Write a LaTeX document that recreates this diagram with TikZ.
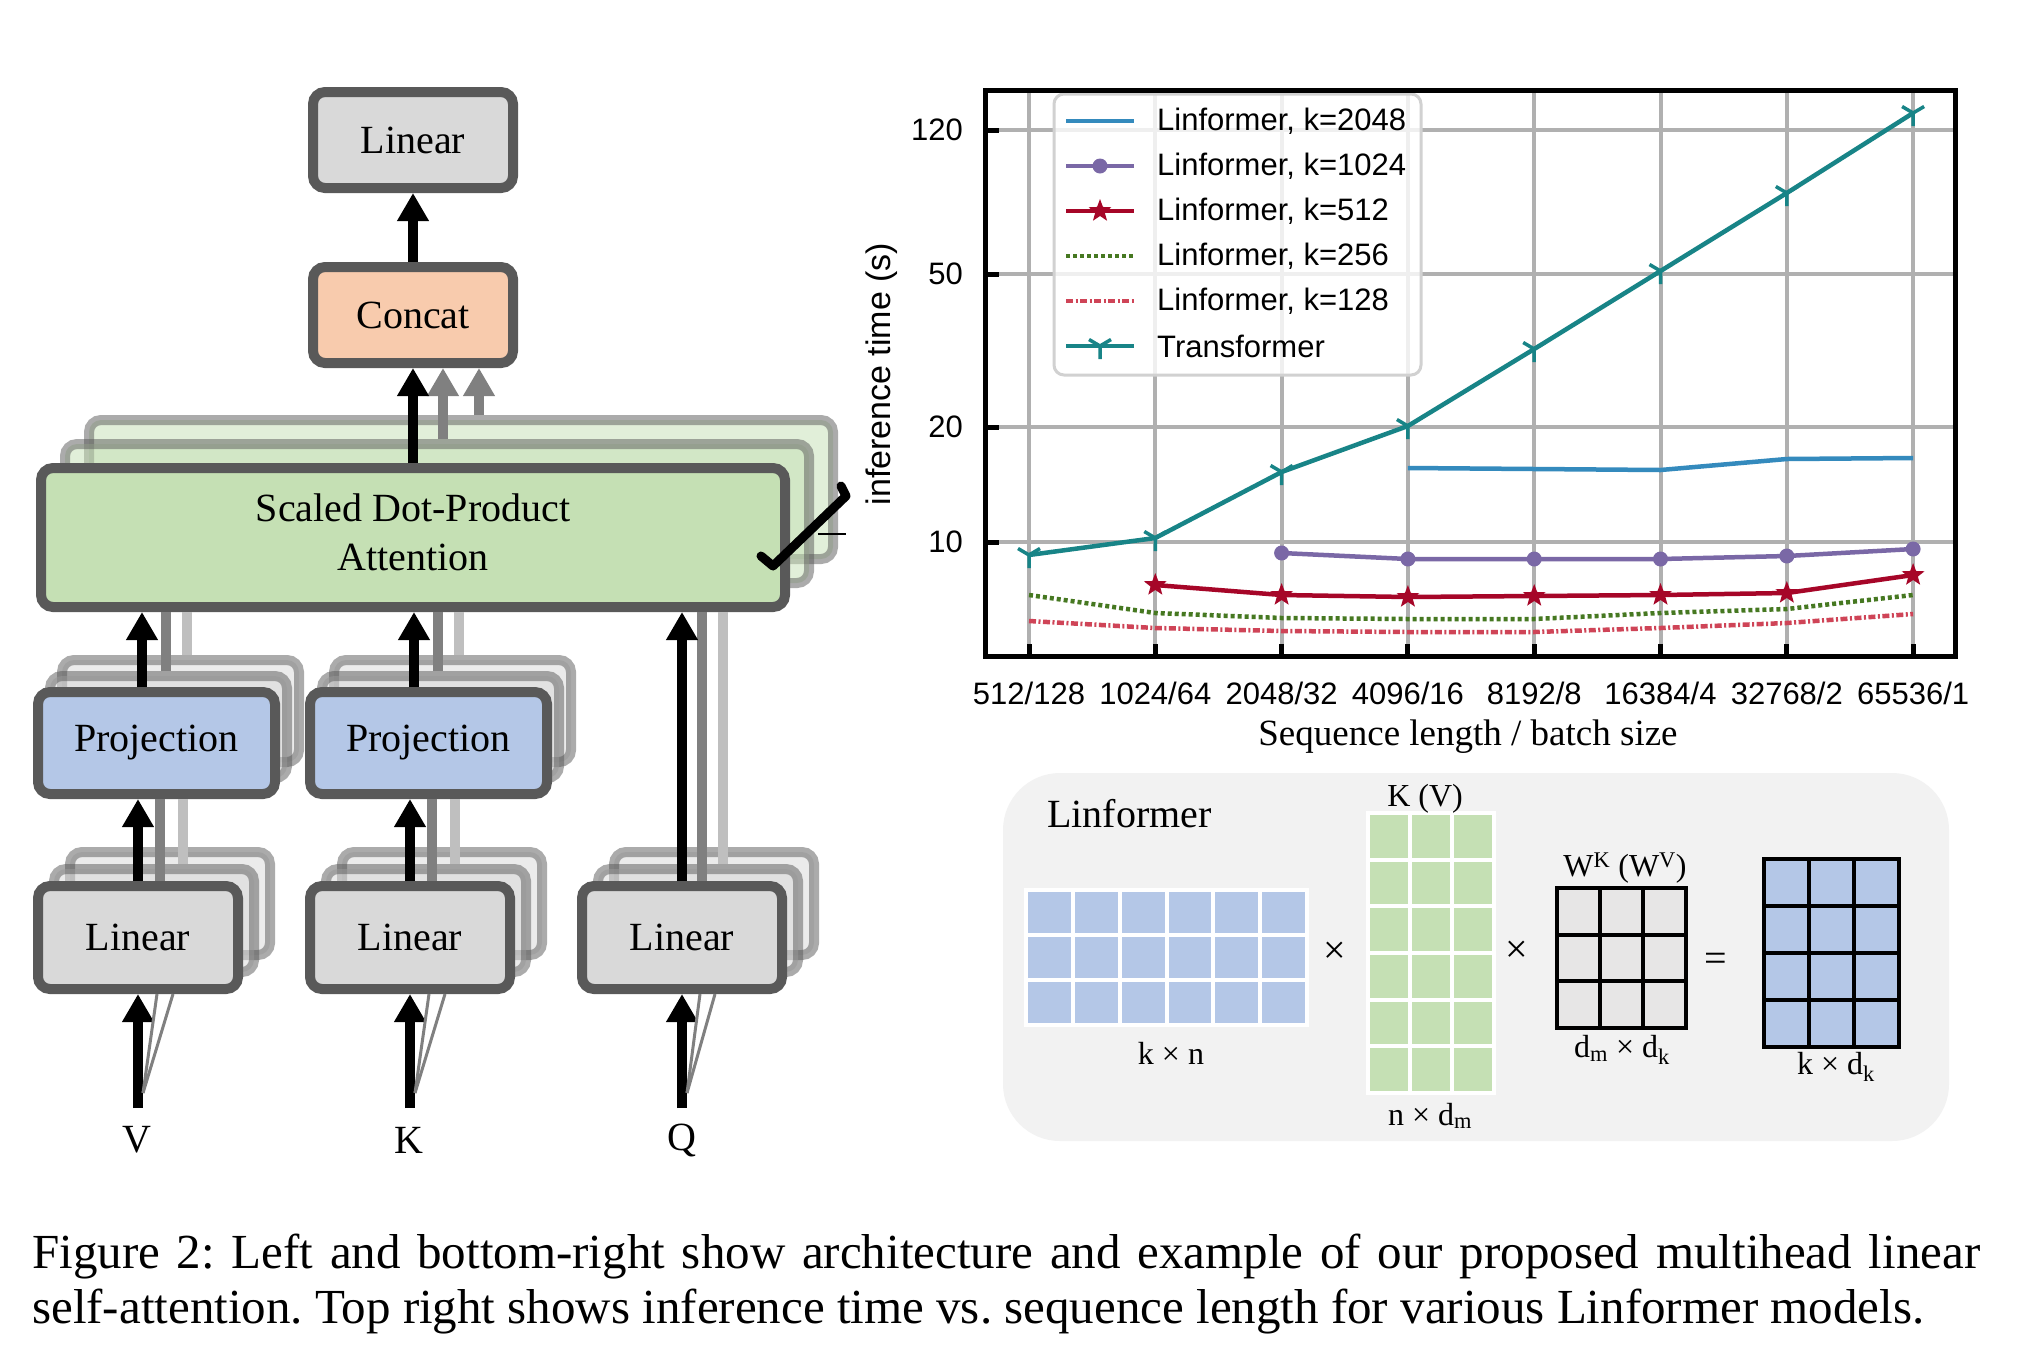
\documentclass[tikz,border=0pt]{standalone}
\usepackage{fontspec}
\setmainfont{Liberation Serif}
\newfontfamily\arialf{Liberation Sans}
\usetikzlibrary{arrows.meta,shapes.geometric,calc}
\definecolor{bordc}{HTML}{595959}
\definecolor{linfill}{HTML}{D9D9D9}
\definecolor{projfill}{HTML}{B4C7E7}
\definecolor{catfill}{HTML}{F8CBAD}
\definecolor{attfill}{HTML}{C5E0B4}
\definecolor{c2048}{HTML}{348ABD}
\definecolor{c1024}{HTML}{7A68A6}
\definecolor{c512}{HTML}{A60628}
\definecolor{c256}{HTML}{467821}
\definecolor{c128}{HTML}{CF4457}
\definecolor{ctr}{HTML}{188487}
\definecolor{gridc}{HTML}{B0B0B0}
\definecolor{panelc}{HTML}{F2F2F2}
\definecolor{m3fill}{HTML}{E7E6E6}
\frenchspacing
\begin{document}
\begin{tikzpicture}[x=1pt,y=-1pt,
 blk/.style={draw=bordc, line width=10pt, rounded corners=12pt, inner sep=0pt, font=\fontsize{40}{49}\selectfont},
 linb/.style={blk, fill=linfill, minimum width=200pt, minimum height=103pt},
 projb/.style={blk, fill=projfill, minimum width=237pt, minimum height=102pt},
 projg/.style={blk, fill=linfill, minimum width=237pt, minimum height=102pt},
 topb/.style={blk, fill=#1, minimum width=200pt, minimum height=96pt},
 attb/.style={blk, fill=attfill, minimum width=744pt, minimum height=139pt},
 ghost/.style={opacity=0.5},
 arr/.style={line width=10pt, -{Triangle[width=30pt,length=28pt]}},
 garr/.style={arr, color=black!50},
 dgl/.style={line width=10pt, draw=black!50},
 lgl/.style={line width=10pt, draw=black!25},
 fan/.style={line width=3pt, draw=black!50},
 lab/.style={font=\fontsize{40}{48}\selectfont, inner sep=0pt},
 gridl/.style={line width=4pt, draw=gridc},
 dline/.style={line width=4.5pt, line join=round},
 tk/.style={font=\arialf\fontsize{31}{37}\selectfont, inner sep=0pt},
 leg/.style={anchor=west, inner sep=0pt, font=\arialf\fontsize{31}{37}\selectfont},
 starm/.style={star, star points=5, star point ratio=2.4, fill=c512, minimum size=24pt, inner sep=0pt},
 mwl/.style={white, line width=4pt, line cap=rect},
 mbl/.style={black, line width=4pt, line cap=rect},
 mlab/.style={font=\fontsize{32}{38}\selectfont, inner sep=0pt},
 mop/.style={font=\fontsize{40}{44}\selectfont, inner sep=0pt},
]
\fill[white] (0,0) rectangle (2018,1350);
\useasboundingbox (0,0) rectangle (2018,1350);

% ---------------- left: architecture ----------------
\node[attb, ghost] (att2) at (461,489.5) {};
\node[attb, ghost] (att1) at (437,513.5) {};
\coordinate (ga1) at (443,0);
\coordinate (ga2) at (479,0);
\node[attb] (sdpa) at (413,537.5) {};
\node[lab, align=center, font=\fontsize{40}{49}\selectfont] (sdpatxt) at (413,532) {Scaled Dot-Product\\Attention};
\node[topb=catfill] (concat) at (413,315) {Concat};
\node[topb=linfill] (lintop) at (413,140) {Linear};
\draw[garr] (ga1 |- att1.north) -- (ga1 |- concat.south);
\draw[garr] (ga2 |- att2.north) -- (ga2 |- concat.south);
\draw[arr] (sdpa.north) -- (concat.south);
\draw[arr] (concat.north) -- (lintop.south);
% head slash
\coordinate (s1) at (761,556);
\coordinate (s2) at (773,566);
\coordinate (s3) at (846,496);
\coordinate (s4) at (841,486);
\draw[line width=9pt, line cap=round, line join=round] (s1) -- (s2) -- (s3) -- (s4);
\coordinate (h1) at (818,534);
\coordinate (h2) at (846,534);
\draw[line width=2pt] (h1) -- (h2);

% V and K columns: copies
\foreach \c/\o in {V/0,K/272}{
  \node[linb,ghost] (lin\c b) at ({170+\o},903.5) {};
  \node[linb,ghost] (lin\c a) at ({154+\o},920.5) {};
  \node[projg,ghost] (proj\c b) at ({180.5+\o},711) {};
  \node[projg,ghost] (proj\c a) at ({168.5+\o},727) {};
  \coordinate (x\c) at ({138+\o},0);
  \coordinate (xu\c) at ({142+\o},0);
  \coordinate (xd\c) at ({160+\o},0);
  \coordinate (xl\c) at ({183+\o},0);
  \coordinate (xdu\c) at ({166+\o},0);
  \coordinate (xlu\c) at ({187+\o},0);
  \coordinate (in\c) at ({138+\o},1108);
  \coordinate (fan\c) at ({143+\o},1093);
}
\foreach \c in {V,K}{
  \draw[dgl] (xdu\c |- proj\c a.north) -- (xdu\c |- sdpa.south);
  \draw[lgl] (xlu\c |- proj\c b.north) -- (xlu\c |- sdpa.south);
}
\node[projb] (projV) at (156.5,743) {Projection};
\node[projb] (projK) at (428.5,743) {Projection};

% Q column copies
\node[linb,ghost] (linQb) at (714,903.5) {};
\node[linb,ghost] (linQa) at (698,920.5) {};
\coordinate (xQ) at (682,0);
\coordinate (xdQ) at (702,0);
\coordinate (xlQ) at (723,0);
\coordinate (inQ) at (682,1108);
\coordinate (fanQ) at (687,1093);

\foreach \c in {V,K}{
  \draw[lgl] (xl\c |- lin\c a.north) -- (xl\c |- proj\c.south);
}
\draw[lgl] (xlQ |- linQa.north) -- (xlQ |- sdpa.south);

\node[linb] (linV) at (138,937.5) {Linear};
\node[linb] (linK) at (410,937.5) {Linear};
\node[linb] (linQ) at (682,937.5) {Linear};

\foreach \c in {V,K}{
  \draw[dgl] (xd\c |- lin\c.north) -- (xd\c |- proj\c.south);
  \draw[arr] (x\c |- lin\c.north) -- (x\c |- proj\c.south);
  \draw[arr] (xu\c |- proj\c.north) -- (xu\c |- sdpa.south);
  \draw[arr] (in\c) -- (x\c |- lin\c.south);
  \draw[fan] (fan\c) -- ([xshift=19pt]x\c |- lin\c.south);
  \draw[fan] (fan\c) -- ([xshift=35pt]x\c |- lin\c.south);
}
\draw[dgl] (xdQ |- linQ.north) -- (xdQ |- sdpa.south);
\draw[arr] (xQ |- linQ.north) -- (xQ |- sdpa.south);
\draw[arr] (inQ) -- (xQ |- linQ.south);
\draw[fan] (fanQ) -- ([xshift=18pt]xQ |- linQ.south);
\draw[fan] (fanQ) -- ([xshift=33pt]xQ |- linQ.south);

\node[lab] (labV) at (137,1140) {V};
\node[lab] (labK) at (409,1140) {K};
\node[lab] (labQ) at (682,1140) {Q};

% ---------------- top right: chart ----------------
\foreach \x in {1029,1155.3,1281.6,1407.9,1534.2,1660.5,1786.8,1913.1}
  \draw[gridl] (\x,90.5) -- (\x,656.5);
\foreach \y in {130,274,427,542}
  \draw[gridl] (985.5,\y) -- (1955.5,\y);

\draw[c128, dline, dash pattern=on 7pt off 2.5pt on 2pt off 2.5pt]
  (1029,621) -- (1155.3,628) -- (1281.6,631) -- (1407.9,632) -- (1534.2,632) -- (1660.5,628) -- (1786.8,623) -- (1913.1,614);
\draw[c256, dline, dash pattern=on 4pt off 3pt]
  (1029,595) -- (1155.3,613) -- (1281.6,618) -- (1407.9,619) -- (1534.2,619) -- (1660.5,613) -- (1786.8,609) -- (1913.1,595);
\draw[c512, dline]
  (1155.3,585) -- (1281.6,595) -- (1407.9,597) -- (1534.2,596) -- (1660.5,595) -- (1786.8,593) -- (1913.1,575);
\foreach \x/\y [count=\i] in {1155.3/585,1281.6/595,1407.9/597,1534.2/596,1660.5/595,1786.8/593,1913.1/575}
  \node[starm] (st\i) at (\x,\y) {};
\draw[c1024, dline]
  (1281.6,553) -- (1407.9,559) -- (1534.2,559) -- (1660.5,559) -- (1786.8,556) -- (1913.1,549);
\foreach \x/\y in {1281.6/553,1407.9/559,1534.2/559,1660.5/559,1786.8/556,1913.1/549}
  \fill[c1024] (\x,\y) circle (7.5pt);
\draw[c2048, dline]
  (1407.9,468) -- (1534.2,469) -- (1660.5,470) -- (1786.8,459) -- (1913.1,458);
\draw[ctr, dline]
  (1029,555) -- (1155.3,538) -- (1281.6,472) -- (1407.9,426) -- (1534.2,349) -- (1660.5,271) -- (1786.8,193) -- (1913.1,113);
\foreach \x/\y in {1029/555,1155.3/538,1281.6/472,1407.9/426,1534.2/349,1660.5/271,1786.8/193,1913.1/113}
  \draw[ctr, line width=3.5pt] (\x,\y) -- ++(0,13) (\x,\y) -- ++(-11,-6.5) (\x,\y) -- ++(11,-6.5);

% legend
\draw[rounded corners=10pt, line width=3pt, draw=black!18, fill=white, fill opacity=0.8] (1054,94) rectangle (1421,375);
\draw[c2048, line width=4.5pt] (1066,121) -- (1134,121);
\node[leg] (lg1) at (1157,121) {Linformer, k=2048};
\draw[c1024, line width=4.5pt] (1066,166) -- (1134,166);
\fill[c1024] (1100,166) circle (7.5pt);
\node[leg] (lg2) at (1157,166) {Linformer, k=1024};
\draw[c512, line width=4.5pt] (1066,211) -- (1134,211);
\node[starm] (lgs) at (1100,211) {};
\node[leg] (lg3) at (1157,211) {Linformer, k=512};
\draw[c256, line width=4.5pt, dash pattern=on 4pt off 3pt] (1066,256) -- (1134,256);
\node[leg] (lg4) at (1157,256) {Linformer, k=256};
\draw[c128, line width=4.5pt, dash pattern=on 7pt off 2.5pt on 2pt off 2.5pt] (1066,301) -- (1134,301);
\node[leg] (lg5) at (1157,301) {Linformer, k=128};
\draw[ctr, line width=4.5pt] (1066,346) -- (1134,346);
\draw[ctr, line width=3.5pt] (1100,346) -- ++(0,13) (1100,346) -- ++(-11,-6.5) (1100,346) -- ++(11,-6.5);
\node[leg] (lg6) at (1157,346) {Transformer};

% frame and ticks
\draw[line width=5pt] (985.5,90.5) rectangle (1955.5,656.5);
\foreach \y/\l in {130/120,274/50,427/20,542/10}{
  \draw[line width=5pt] (985.5,\y) -- (999,\y);
  \node[tk, anchor=east] (yt\l) at (963,\y) {\l};
}
\foreach \x/\l [count=\i] in {1029/512\slash128,1155.3/1024\slash64,1281.6/2048\slash32,1407.9/4096\slash16,1534.2/8192\slash8,1660.5/16384\slash4,1786.8/32768\slash2,1913.1/65536\slash1}{
  \draw[line width=5pt] (\x,656.5) -- (\x,644);
  \node[tk] (xt\i) at (\x,693) {\l};
}
\node[rotate=90, font=\arialf\fontsize{34}{40}\selectfont, inner sep=0pt] (ylab) at (882,374) {inference time (s)};
\node[font=\fontsize{37}{44}\selectfont, inner sep=0pt] (xlab) at (1468,737) {Sequence length / batch size};

% ---------------- bottom right: Linformer panel ----------------
\fill[panelc, rounded corners=57pt] (1003,773) rectangle (1949,1141);
\node[anchor=west, font=\fontsize{40}{48}\selectfont, inner sep=0pt] (lfm) at (1047,814) {Linformer};
\fill[projfill] (1026,890) rectangle (1307,1025);
\foreach \i in {0,...,6} \draw[mwl] ({1026+46.833*\i},890) -- ({1026+46.833*\i},1025);
\foreach \j in {0,...,3} \draw[mwl] (1026,{890+45*\j}) -- (1307,{890+45*\j});
\fill[attfill] (1368,813) rectangle (1494,1093);
\foreach \i in {0,...,3} \draw[mwl] ({1368+42*\i},813) -- ({1368+42*\i},1093);
\foreach \j in {0,...,6} \draw[mwl] (1368,{813+46.667*\j}) -- (1494,{813+46.667*\j});
\fill[m3fill] (1557,888) rectangle (1686,1028);
\foreach \i in {0,...,3} \draw[mbl] ({1557+43*\i},888) -- ({1557+43*\i},1028);
\foreach \j in {0,...,3} \draw[mbl] (1557,{888+46.667*\j}) -- (1686,{888+46.667*\j});
\fill[projfill] (1764,859) rectangle (1899,1047);
\foreach \i in {0,...,3} \draw[mbl] ({1764+45*\i},859) -- ({1764+45*\i},1047);
\foreach \j in {0,...,4} \draw[mbl] (1764,{859+47*\j}) -- (1899,{859+47*\j});
\node[mlab] (m1l) at (1171,1053) {k × n};
\node[mop] (op1) at (1335,953) {×};
\node[mlab] (m2t) at (1425,799) {K (V)};
\node[mlab] (m2l) at (1430,1116) {n × d\textsubscript{m}};
\node[mop] (op2) at (1517,952) {×};
\node[mlab] (m3t) at (1625,868) {W\textsuperscript{K} (W\textsuperscript{V})};
\node[mlab] (m3l) at (1622,1050) {d\textsubscript{m} × d\textsubscript{k}};
\node[mop] (op3) at (1716,962) {=};
\node[mlab] (m4l) at (1836,1067) {k × d\textsubscript{k}};

% ---------------- caption ----------------
\node[anchor=base west, inner sep=0pt, font=\fontsize{49}{56}\selectfont] (cap1) at (32,1268)
  {\makebox[1948pt][s]{Figure 2: Left and bottom-right show architecture and example of our proposed multihead linear}};
\node[anchor=base west, inner sep=0pt, font=\fontsize{49}{56}\selectfont] (cap2) at (32,1323)
  {self-attention. Top right shows inference time vs. sequence length for various Linformer models.};
\end{tikzpicture}
\end{document}
